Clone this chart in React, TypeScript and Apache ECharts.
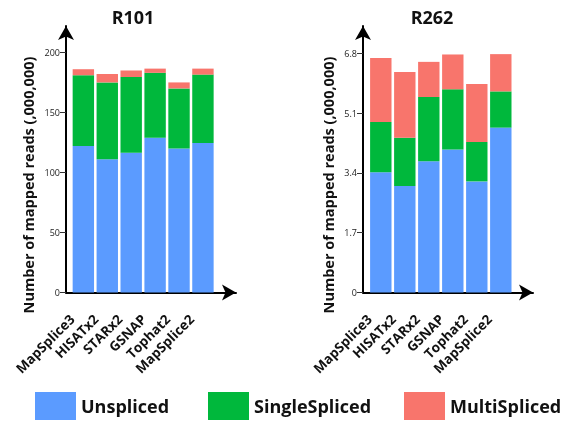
import React, { useEffect, useRef } from "react";
import * as echarts from "echarts";

const categories = ["MapSplice3", "HISATx2", "STARx2", "GSNAP", "Tophat2", "MapSplice2"];
const seriesNames = ["Unspliced", "SingleSpliced", "MultiSpliced"];
const seriesColors = ["#5B9BFF", "#00B83C", "#F8756C"];

const r101Unspliced = [122, 111, 116.5, 129, 120, 124.5];
const r101Single = [59, 64, 63, 54, 50, 57];
const r101Multi = [5, 7, 5.5, 3.5, 5, 5];

const r262Unspliced = [3.42, 3.03, 3.73, 4.07, 3.16, 4.69];
const r262Single = [1.43, 1.37, 1.83, 1.71, 1.12, 1.03];
const r262Multi = [1.82, 1.87, 1.0, 0.99, 1.65, 1.06];

const leftTitle = "R101";
const rightTitle = "R262";
const yTitle = "Number of mapped reads (,000,000)";
const leftTickInterval = 50;
const leftMax = 222;
const rightTickInterval = 1.7;
const rightMax = 7.58;

const FONT = "'Open Sans', sans-serif";

export default function App() {
  const ref = useRef<HTMLDivElement>(null);
  useEffect(() => {
    if (!ref.current) return;
    const chart = echarts.init(ref.current, null, { renderer: "svg" });
    const top = 26;
    const bottom = 128.5;

    const arrowLine = {
      show: true,
      symbol: ["none", "arrow"],
      symbolSize: [12, 14],
      lineStyle: { color: "#000", width: 2 },
    };

    const axisY = (max: number, interval: number, gridIndex: number) => ({
      type: "value",
      gridIndex,
      min: 0,
      max,
      interval,
      axisLine: arrowLine,
      axisTick: { show: true, length: 6, lineStyle: { color: "#333", width: 1 } },
      axisLabel: {
        show: true,
        showMaxLabel: false,
        margin: 6,
        fontSize: 9,
        color: "#222",
        fontFamily: FONT,
        verticalAlign: "middle",
        padding: [0, 0, 5, 0],
      },
      splitLine: { show: false },
    });
    const hiddenY = (max: number, interval: number, gridIndex: number) => ({
      type: "value",
      gridIndex,
      min: 0,
      max,
      interval,
      show: false,
      splitLine: { show: false },
    });
    const axisX = (gridIndex: number) => ({
      type: "value",
      gridIndex,
      min: 0,
      max: 1,
      axisLine: arrowLine,
      axisTick: { show: false },
      axisLabel: { show: false },
      splitLine: { show: false },
    });
    const catX = (gridIndex: number) => ({
      type: "category",
      gridIndex,
      data: categories,
      axisLine: { show: false },
      axisTick: { show: false },
      axisLabel: {
        interval: 0,
        rotate: 45,
        margin: 13,
        padding: [0, 16, 0, 0],
        fontSize: 13.5,
        fontWeight: "bold",
        color: "#111",
        fontFamily: FONT,
      },
    });

    const mk = (name: string, data: number[], color: string, idx: number, stack: string) => ({
      name,
      type: "bar",
      stack,
      xAxisIndex: idx,
      yAxisIndex: idx,
      data,
      barWidth: 21.4,
      itemStyle: { color },
    });

    const legend = (name: string, left: number) => ({
      data: [name],
      left,
      top: 392,
      icon: "rect",
      itemWidth: 41,
      itemHeight: 28,
      padding: 0,
      textStyle: { fontSize: 18, fontWeight: "bold", color: "#111", fontFamily: FONT },
    });

    chart.setOption({
      animation: false,
      grid: [
        { left: 66, top, bottom, width: 170 },
        { left: 71.4, top, bottom, width: 143.5 },
        { left: 363, top, bottom, width: 170 },
        { left: 368.8, top, bottom, width: 144 },
      ],
      xAxis: [axisX(0), catX(1), axisX(2), catX(3)],
      yAxis: [
        axisY(leftMax, leftTickInterval, 0),
        hiddenY(leftMax, leftTickInterval, 1),
        axisY(rightMax, rightTickInterval, 2),
        hiddenY(rightMax, rightTickInterval, 3),
      ],
      legend: [legend(seriesNames[0], 35), legend(seriesNames[1], 208), legend(seriesNames[2], 404)],
      series: [
        mk(seriesNames[0], r101Unspliced, seriesColors[0], 1, "a"),
        mk(seriesNames[1], r101Single, seriesColors[1], 1, "a"),
        mk(seriesNames[2], r101Multi, seriesColors[2], 1, "a"),
        mk(seriesNames[0], r262Unspliced, seriesColors[0], 3, "b"),
        mk(seriesNames[1], r262Single, seriesColors[1], 3, "b"),
        mk(seriesNames[2], r262Multi, seriesColors[2], 3, "b"),
      ],
      graphic: [
        {
          type: "text",
          x: 133,
          y: 17,
          style: { text: leftTitle, fontSize: 18, fontWeight: "bold", fill: "#111", fontFamily: FONT, align: "center", verticalAlign: "middle" },
        },
        {
          type: "text",
          x: 432,
          y: 17,
          style: { text: rightTitle, fontSize: 18, fontWeight: "bold", fill: "#111", fontFamily: FONT, align: "center", verticalAlign: "middle" },
        },
        {
          type: "text",
          x: 28,
          y: 185,
          rotation: Math.PI / 2,
          style: { text: yTitle, fontSize: 14.5, fontWeight: "bold", fill: "#111", fontFamily: FONT, align: "center", verticalAlign: "middle" },
        },
        {
          type: "text",
          x: 328,
          y: 185,
          rotation: Math.PI / 2,
          style: { text: yTitle, fontSize: 14.5, fontWeight: "bold", fill: "#111", fontFamily: FONT, align: "center", verticalAlign: "middle" },
        },
      ],
    });
    return () => chart.dispose();
  }, []);
  return <div ref={ref} style={{ position: "fixed", left: 0, top: 0, width: 566, height: 421 }} />;
}
